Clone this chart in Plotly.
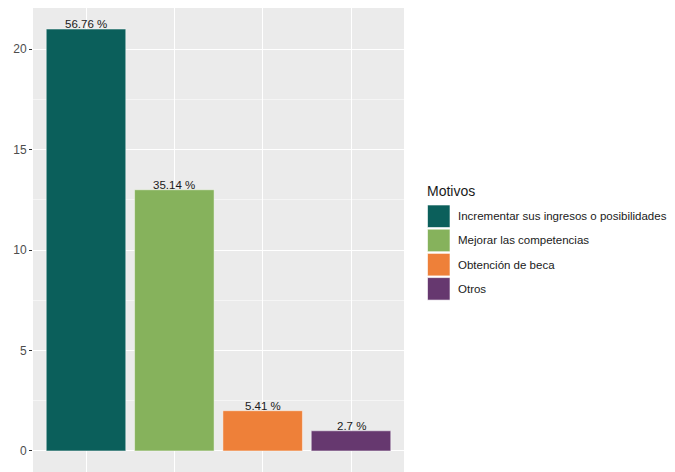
import plotly.graph_objects as go

# data
motivos = ["Incrementar sus ingresos o posibilidades", "Mejorar las competencias",
           "Obtención de beca", "Otros"]
conteos = [21, 13, 2, 1]
colores = ["#0B5F5B", "#86B25C", "#EE8039", "#66386F"]
y_ticks = [0, 5, 10, 15, 20]

total = sum(conteos)
porcentajes = [f"{round(c / total * 100, 2)} %" for c in conteos]

# the page body has an 8px margin, so the figure is laid out in page coords - 8
OFF = 8
W, H = 675 - OFF, 472 - OFF
L, R, T, B = 33 - OFF, 675 - 404, 0, 0
pw, ph = W - L - R, H - T - B

def px_x(px):
    return (px - OFF - L) / pw

def px_y(py):
    return (H - B - (py - OFF)) / ph

fig = go.Figure()
fig.add_trace(go.Bar(
    x=motivos, y=conteos, width=0.9,
    marker=dict(color=colores, line=dict(color="rgba(255,255,255,0.45)", width=1)),
    showlegend=False, hoverinfo="x+y",
))

# percentage labels just above bars
for m, c, p in zip(motivos, conteos, porcentajes):
    fig.add_annotation(x=m, y=c, text=p, showarrow=False, yanchor="bottom",
                       yshift=-3, font=dict(size=11.5, color="#1a1a1a"))

# custom ggplot-like legend
fig.add_annotation(xref="paper", yref="paper", x=px_x(425), y=px_y(191),
                   xanchor="left", yanchor="middle", text="Motivos", showarrow=False,
                   font=dict(size=14, color="#1a1a1a"))
key_top, key_step, key_h = 205, 24.2, 22.5
for i, (m, col) in enumerate(zip(motivos, colores)):
    top = key_top + i * key_step
    fig.add_shape(type="rect", xref="paper", yref="paper",
                  x0=px_x(427.5), x1=px_x(450), y0=px_y(top + key_h), y1=px_y(top),
                  fillcolor=col, line=dict(color="rgba(255,255,255,0.6)", width=1))
    fig.add_annotation(xref="paper", yref="paper", x=px_x(456), y=px_y(top + key_h / 2),
                       xanchor="left", yanchor="middle", text=m, showarrow=False,
                       font=dict(size=11.5, color="#1a1a1a"))

fig.update_layout(
    width=W, height=H,
    margin=dict(l=L, r=R, t=T, b=B, autoexpand=False),
    paper_bgcolor="white", plot_bgcolor="#EBEBEB",
    font=dict(family="Liberation Sans, Arial, sans-serif"),
    bargap=0.1,
)
fig.update_xaxes(range=[-0.6, 3.6], showticklabels=False, showgrid=True,
                 gridcolor="white", gridwidth=1.2, zeroline=False, showline=False,
                 ticks="", automargin=False)
fig.update_yaxes(range=[-1.05, 22.05], tickvals=y_ticks, ticks="outside", ticklen=3,
                 tickcolor="#333333", tickwidth=1, automargin=False,
                 tickfont=dict(size=12, color="#4D4D4D"),
                 showgrid=True, gridcolor="white", gridwidth=1.2, zeroline=False,
                 minor=dict(dtick=2.5, tick0=0, showgrid=True, gridcolor="#F5F5F5",
                            gridwidth=0.6, ticks=""))

fig.write_html("out.html")
